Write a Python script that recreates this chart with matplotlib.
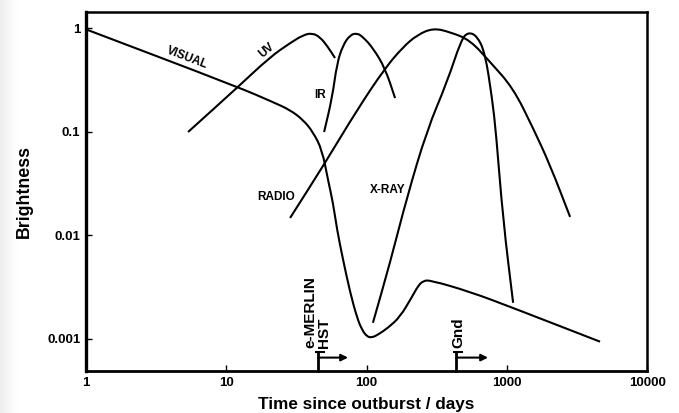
import numpy as np
from matplotlib import pyplot as plt
from matplotlib.path import Path
from matplotlib.patches import PathPatch

plt.rcParams['font.family'] = ['Liberation Sans', 'DejaVu Sans']
plt.rcParams['font.weight'] = 'bold'

# light curves: (days, relative brightness)
visual_t = [1.03, 12.1, 21.5, 28.5, 35.3, 41.5, 48.2, 53.1, 57.7, 61.6, 68.0, 76.2,
            85.5, 92.9, 100.8, 109.4, 120.8, 142.3, 173.3, 211, 233, 253, 284,
            547, 1109, 4620]
visual_b = [0.957, 0.270, 0.193, 0.162, 0.130, 0.0993, 0.0667, 0.0342, 0.0205, 0.0113,
            0.00579, 0.00285, 0.0016, 0.00122, 0.00105, 0.00103, 0.0011, 0.00128,
            0.00163, 0.00255, 0.00325, 0.00363, 0.00369, 0.00285, 0.00199, 0.00094]

uv_t = [5.34, 12.1, 20.5, 28.5, 35.3, 40.9, 46.6, 53.1, 59.6]
uv_b = [0.0993, 0.270, 0.525, 0.717, 0.856, 0.895, 0.819, 0.656, 0.514]

ir_t = [49.8, 56.8, 61.6, 68.0, 76.2, 85.5, 94.4, 111.2, 135.5, 159.7]
ir_b = [0.0993, 0.211, 0.46, 0.686, 0.856, 0.895, 0.819, 0.641, 0.411, 0.211]

radio_t = [28.5, 50.6, 85.5, 135.5, 182, 229, 298, 394, 547, 760, 1109, 1540, 2033, 2825]
radio_b = [0.0147, 0.0499, 0.162, 0.411, 0.656, 0.856, 1.0, 0.915, 0.766, 0.47,
           0.264, 0.108, 0.0477, 0.01505]

xray_t = [111, 147, 194.5, 270, 375, 472, 529, 614, 700, 785, 838, 940, 1109]
xray_b = [0.00143, 0.00542, 0.0235, 0.104, 0.301, 0.766, 0.915, 0.84, 0.574,
          0.211, 0.0972, 0.0141, 0.00223]

# observation start markers (days)
emerlin_start = 45.1
emerlin_end = 73.8
gnd_start = 435
gnd_end = 735

xticks = [1, 10, 100, 1000, 10000]
xtick_labels = ['1', '10', '100', '1000', '10000']
yticks = [0.001, 0.01, 0.1, 1]
ytick_labels = ['0.001', '0.01', '0.1', '1']


def smooth_path(t, b):
    # quadratic bezier through segment midpoints (geometric means on log axes)
    t = np.asarray(t, float)
    b = np.asarray(b, float)
    mt = np.sqrt(t[:-1] * t[1:])
    mb = np.sqrt(b[:-1] * b[1:])
    verts = [(t[0], b[0]), (mt[0], mb[0])]
    codes = [Path.MOVETO, Path.LINETO]
    for i in range(1, len(t) - 1):
        verts += [(t[i], b[i]), (mt[i], mb[i])]
        codes += [Path.CURVE3, Path.CURVE3]
    verts.append((t[-1], b[-1]))
    codes.append(Path.LINETO)
    return Path(verts, codes)


fig = plt.figure(figsize=(6.79, 4.13), dpi=100)

# faint grey strip at the left edge of the page
strip = fig.add_axes([0, 0, 0.026, 1])
grad = np.linspace(0.93, 1.0, 50).reshape(1, -1)
strip.imshow(grad, cmap='gray', vmin=0, vmax=1, aspect='auto')
strip.axis('off')

ax = fig.add_axes([0.1267, 0.1017, 0.8263, 0.8693])
ax.set_xscale('log')
ax.set_yscale('log')
ax.set_xlim(1, 10000)
ax.set_ylim(0.00049, 1.43)

for t, b in [(visual_t, visual_b), (uv_t, uv_b), (ir_t, ir_b),
             (radio_t, radio_b), (xray_t, xray_b)]:
    ax.add_patch(PathPatch(smooth_path(t, b), facecolor='none', edgecolor='black',
                           lw=1.5, capstyle='butt', joinstyle='round'))

ax.set_xticks(xticks)
ax.set_xticklabels(xtick_labels)
ax.set_yticks(yticks)
ax.set_yticklabels(ytick_labels)
ax.minorticks_off()
ax.tick_params(direction='in', length=4, width=1, labelsize=9.5, pad=4)
for side, w in [('left', 2.4), ('bottom', 2.0), ('top', 1.8), ('right', 1.8)]:
    ax.spines[side].set_linewidth(w)

ax.set_xlabel('Time since outburst / days', fontsize=12.3, fontweight='bold', labelpad=6)
ax.set_ylabel('Brightness', fontsize=12.8, fontweight='bold', labelpad=10)

lab = dict(fontsize=8.5, fontweight='bold', ha='center', va='center')
ax.text(5.3, 0.52, 'VISUAL', rotation=-21, **lab)
ax.text(19.5, 0.61, 'UV', rotation=40, **lab)
ax.text(46.6, 0.226, 'IR', **lab)
ax.text(22.6, 0.0235, 'RADIO', **lab)
ax.text(142, 0.0274, 'X-RAY', **lab)

# e-MERLIN / HST and ground-based markers
ybar_top = 0.00075
ybar_bot = 0.00049
yarrow = 0.00066
for x0, x1 in [(emerlin_start, emerlin_end), (gnd_start, gnd_end)]:
    ax.plot([x0, x0], [ybar_bot, ybar_top], color='black', lw=2, clip_on=False)
    ax.plot([x0 * 0.97, x0 * 1.1], [ybar_top, ybar_top], color='black', lw=1.5)
    ax.annotate('', xy=(x1, yarrow), xytext=(x0, yarrow),
                arrowprops=dict(arrowstyle='-|>', color='black', lw=1.5,
                                mutation_scale=10, shrinkA=0, shrinkB=0))

rot = dict(rotation=90, fontsize=11, fontweight='bold', ha='center', va='bottom')
ax.text(39.5, 0.00082, 'e-MERLIN', **rot)
ax.text(49.5, 0.00082, 'HST', **rot)
ax.text(449, 0.00082, 'Gnd', **rot)

fig.savefig('out.png', dpi=100)
